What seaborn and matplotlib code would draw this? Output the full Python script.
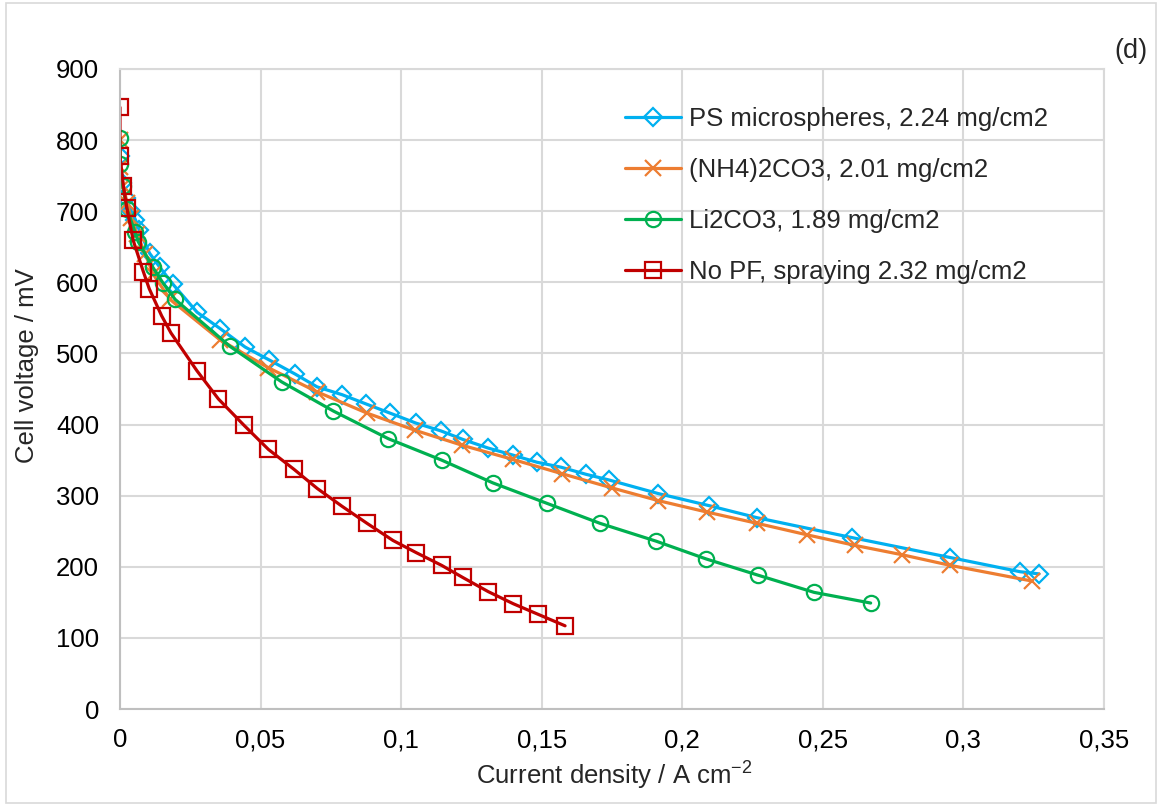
import matplotlib
matplotlib.use("Agg")
import matplotlib.pyplot as plt
from matplotlib.ticker import MultipleLocator, FuncFormatter
from matplotlib.patches import Rectangle
import seaborn as sns

# data (current density A/cm2, voltage mV)
ps_x = [0, 0.0008, 0.002, 0.004, 0.0055, 0.0068, 0.0105, 0.0142, 0.0189, 0.0274, 0.0356,
        0.0445, 0.053, 0.0623, 0.0701, 0.079, 0.0875, 0.0961, 0.1053, 0.1142, 0.122,
        0.1309, 0.1398, 0.1483, 0.1569, 0.1658, 0.174, 0.1914, 0.2095, 0.2266, 0.2604,
        0.2953, 0.3202, 0.3269]
ps_y = [778, 740, 718, 700, 688, 674, 641, 621, 597, 558, 535,
        509, 491, 471, 453, 442, 429, 416, 402, 391, 379,
        367, 357, 347, 340, 330, 322, 303, 286, 269, 241,
        213, 193, 190]

nh4_x = [0, 0, 0.0012, 0.0025, 0.004, 0.006, 0.009, 0.0117, 0.0178, 0.0356, 0.0527,
         0.0701, 0.0879, 0.1049, 0.1216, 0.1397, 0.1571, 0.1749, 0.1915, 0.2087, 0.2267,
         0.2443, 0.2615, 0.2781, 0.2953, 0.3243]
nh4_y = [800, 762, 735, 712, 690, 668, 640, 612, 576, 519, 480,
         446, 416, 392, 371, 351, 331, 311, 293, 277, 261,
         245, 230, 217, 202, 180]

li_x = [0, 0, 0.001, 0.0025, 0.0053, 0.0065, 0.0117, 0.0153, 0.0196, 0.0391, 0.0575,
        0.0759, 0.0955, 0.1144, 0.1326, 0.152, 0.1708, 0.1907, 0.2085, 0.2271, 0.2469,
        0.267]
li_y = [803, 767, 735, 703, 671, 657, 621, 599, 576, 510, 460,
        419, 380, 350, 318, 289, 261, 236, 211, 188, 164,
        149]

nopf_x = [0, 0, 0.0012, 0.0024, 0.0047, 0.0083, 0.0104, 0.0148, 0.0181, 0.0273, 0.035,
          0.0441, 0.0528, 0.0619, 0.0702, 0.079, 0.0879, 0.0971, 0.1053, 0.1144, 0.1219,
          0.131, 0.1399, 0.1488, 0.1583]
nopf_y = [846, 777, 736, 705, 659, 615, 591, 553, 529, 476, 436,
          399, 365, 337, 310, 285, 261, 237, 220, 202, 185,
          165, 148, 133, 117]

labels = ["PS microspheres, 2.24 mg/cm2", "(NH4)2CO3, 2.01 mg/cm2",
          "Li2CO3, 1.89 mg/cm2", "No PF, spraying 2.32 mg/cm2"]
colors = ["#00B0F0", "#ED7D31", "#00B050", "#C00000"]
markers = ["D", "x", "o", "s"]
msizes = [9.5, 12, 11, 11]

FS = 18.5

sns.set_style("white")
plt.rcParams["font.family"] = ["Liberation Sans", "DejaVu Sans"]
plt.rcParams["mathtext.fontset"] = "custom"
plt.rcParams["mathtext.rm"] = "Liberation Sans"
plt.rcParams["mathtext.default"] = "regular"

fig = plt.figure(figsize=(11.6, 8.05), dpi=100)
ax = fig.add_axes([120 / 1160, 1 - 709 / 805, 984 / 1160, 640 / 805])

series = [(ps_x, ps_y), (nh4_x, nh4_y), (li_x, li_y), (nopf_x, nopf_y)]
for (xs, ys), lab, c, m, ms in zip(series, labels, colors, markers, msizes):
    sns.lineplot(x=xs, y=ys, ax=ax, color=c, marker=m, markersize=ms,
                 markerfacecolor="none", markeredgecolor=c, markeredgewidth=1.6,
                 linewidth=2.3, estimator=None, sort=False, label=lab)

ax.set_xlim(0, 0.35)
ax.set_ylim(0, 900)
ax.xaxis.set_major_locator(MultipleLocator(0.05))
ax.yaxis.set_major_locator(MultipleLocator(100))
ax.xaxis.set_major_formatter(FuncFormatter(lambda v, p: f"{round(v, 2):g}".replace(".", ",")))
ax.grid(True, color="#D9D9D9", linewidth=1.5)
ax.set_axisbelow(True)
for s in ax.spines.values():
    s.set_color("#D9D9D9")
    s.set_linewidth(1.5)
ax.spines["left"].set_color("#BFBFBF")
ax.spines["bottom"].set_color("#BFBFBF")
ax.tick_params(length=0, labelsize=FS, labelcolor="#000000")
ax.tick_params(axis="y", pad=15)
ax.tick_params(axis="x", pad=14)

ax.set_xlabel("Current density / A cm$^{-2}$", fontsize=FS)
ax.set_ylabel("Cell voltage / mV", fontsize=FS)
ax.xaxis.set_label_coords(614 / 1160, 1 - 776 / 805, transform=fig.transFigure)
ax.yaxis.set_label_coords(27 / 1160, 1 - 366 / 805, transform=fig.transFigure)
ax.xaxis.label.set_va("center")
ax.yaxis.label.set_va("center")

ax.legend(loc="upper left", bbox_to_anchor=(612 / 1160, 1 - 94 / 805),
          bbox_transform=fig.transFigure, frameon=False, fontsize=FS,
          handlelength=2.2, handletextpad=0.3, labelspacing=1.05, borderpad=0)

fig.text(1131 / 1160, 1 - 51 / 805, "(d)", fontsize=FS + 1, ha="center", va="center")
fig.patches.append(Rectangle((6 / 1160, 2 / 805), 1150 / 1160, 800 / 805,
                             transform=fig.transFigure, fill=False,
                             edgecolor="#D9D9D9", linewidth=1.2))

fig.savefig("out.png", dpi=100)
